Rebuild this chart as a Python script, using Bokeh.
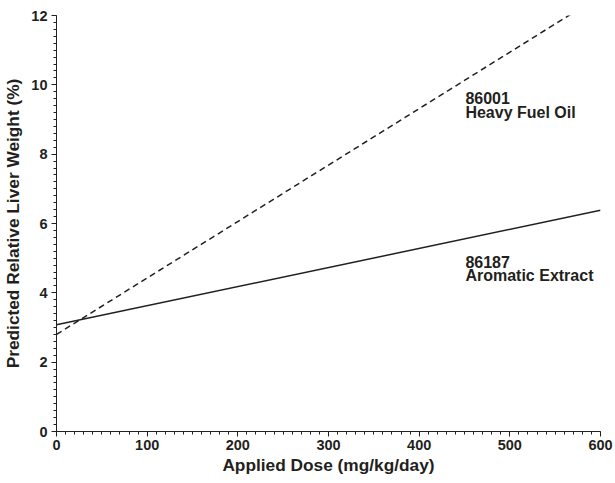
from bokeh.plotting import figure
from bokeh.models import Range1d, FixedTicker, Label
from bokeh.embed import file_html
from bokeh.resources import INLINE

dose = [0, 600]
hfo_86001 = [2.8, 12.57]
arom_86187 = [3.08, 6.38]
x_ticks = [0, 100, 200, 300, 400, 500, 600]
y_ticks = [0, 2, 4, 6, 8, 10, 12]
labels = [("86001", 451, 9.61), ("Heavy Fuel Oil", 451, 9.21),
          ("86187", 451, 4.90), ("Aromatic Extract", 451, 4.50)]

INK = "#231f20"
FONT = "Liberation Sans"

p = figure(width=615, height=483, output_backend="svg", toolbar_location=None,
           x_range=Range1d(0, 600), y_range=Range1d(0, 12),
           min_border_left=56, min_border_right=15, min_border_top=15, min_border_bottom=52)
p.outline_line_color = None
p.xgrid.visible = False
p.ygrid.visible = False

p.line(dose, hfo_86001, line_color=INK, line_width=1.5, line_dash="6 4")
p.line(dose, arom_86187, line_color=INK, line_width=1.5)

for ax in (p.xaxis[0], p.yaxis[0]):
    ax.axis_line_color = INK
    ax.major_tick_line_color = INK
    ax.minor_tick_line_color = INK
    ax.minor_tick_line_width = 1
    ax.major_tick_out = 5
    ax.major_tick_in = 0
    ax.minor_tick_out = 3
    ax.minor_tick_in = 0
    ax.major_label_text_font = FONT
    ax.major_label_text_font_style = "bold"
    ax.major_label_text_font_size = "14.5px"
    ax.major_label_text_color = INK
    ax.axis_label_text_font = FONT
    ax.axis_label_text_font_style = "bold"
    ax.axis_label_text_font_size = "17.3px"
    ax.axis_label_text_color = INK

p.xaxis.ticker = FixedTicker(ticks=x_ticks, minor_ticks=list(range(0, 601, 10)))
p.yaxis.ticker = FixedTicker(ticks=y_ticks, minor_ticks=[i * 0.2 for i in range(61)])
p.xaxis.axis_label = "Applied Dose (mg/kg/day)"
p.yaxis.axis_label = "Predicted Relative Liver Weight (%)"
p.xaxis.major_label_standoff = 3
p.yaxis.major_label_standoff = 4
p.xaxis.axis_label_standoff = 2
p.yaxis.axis_label_standoff = 5

for txt, x, y in labels:
    p.add_layout(Label(x=x, y=y, text=txt, text_font=FONT, text_font_style="bold",
                       text_font_size="16px", text_color=INK, text_baseline="alphabetic"))

open("out.html", "w").write(file_html(p, INLINE))
